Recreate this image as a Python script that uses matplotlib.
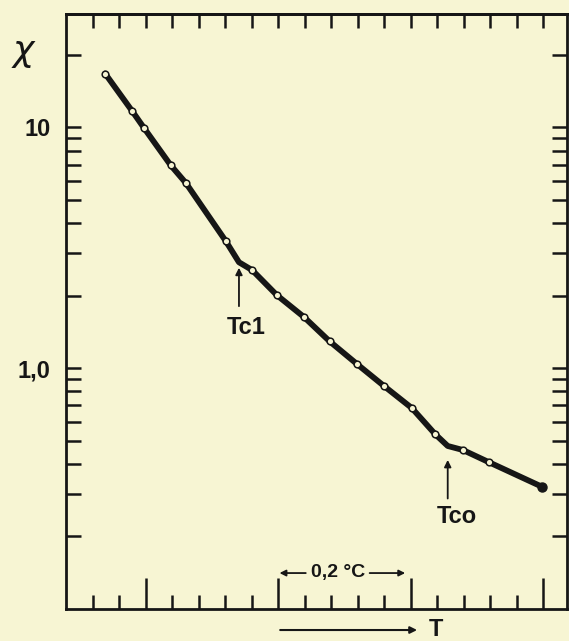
import numpy as np
import matplotlib
matplotlib.use('Agg')
import matplotlib.pyplot as plt
from matplotlib.ticker import FixedLocator, NullFormatter

# measured points (x in degC from the left edge, chi on log scale)
pts_x = [0.059, 0.100, 0.118, 0.158, 0.181, 0.241, 0.281, 0.318, 0.359, 0.398,
         0.439, 0.480, 0.522, 0.557, 0.599, 0.638]
pts_chi = [16.7, 11.65, 9.9, 6.95, 5.86, 3.37, 2.55, 2.01, 1.63, 1.29,
           1.04, 0.842, 0.682, 0.532, 0.457, 0.407]
end_x, end_chi = 0.719, 0.321

# transition points
tc1_x, tc1_chi = 0.261, 2.75
tco_x, tco_chi = 0.576, 0.475

y_ticks = [0.2, 0.3, 0.4, 0.5, 0.6, 0.7, 0.8, 0.9, 1.0,
           2, 3, 4, 5, 6, 7, 8, 9, 10, 20]
y_labels = {10: '10', 1.0: '1,0'}
x_major = [0.12, 0.32, 0.52, 0.72]
x_minor = [round(0.04 * i, 2) for i in range(1, 19)]

paper = '#f7f5d3'
ink = '#161616'
plt.rcParams['font.family'] = ['Liberation Sans', 'DejaVu Sans']

fig = plt.figure(figsize=(5.69, 6.41), dpi=100, facecolor=paper)
ax = fig.add_axes([66/569, 32/641, 501/569, 595/641])
ax.set_facecolor(paper)

# curve through points + kinks
cx = sorted(pts_x + [tc1_x, tco_x, end_x])
lookup = dict(zip(pts_x + [tc1_x, tco_x, end_x], pts_chi + [tc1_chi, tco_chi, end_chi]))
cy = [lookup[v] for v in cx]
ax.plot(cx, cy, color=ink, lw=4.2, solid_capstyle='round', zorder=3)
ax.plot(pts_x, pts_chi, 'o', ms=4.8, mfc=paper, mec=ink, mew=1.1, zorder=4)
ax.plot([end_x], [end_chi], 'o', ms=6.5, color=ink, zorder=4)

ax.set_yscale('log')
ax.set_xlim(0, 0.756)
ax.set_ylim(0.1, 29.5)

ax.yaxis.set_major_locator(FixedLocator(y_ticks))
ax.yaxis.set_minor_locator(FixedLocator([]))
ax.set_yticklabels([y_labels.get(v, '') for v in y_ticks], fontsize=17, fontweight='bold', color=ink)
ax.tick_params(axis='y', which='major', direction='in', length=11, width=1.8,
               left=True, right=True, pad=11, colors=ink)

ax.xaxis.set_major_locator(FixedLocator(x_major))
ax.xaxis.set_minor_locator(FixedLocator([v for v in x_minor if v not in x_major]))
ax.xaxis.set_major_formatter(NullFormatter())
ax.tick_params(axis='x', which='major', direction='in', length=22, width=1.8, top=False, colors=ink)
ax.tick_params(axis='x', which='minor', direction='in', length=10, width=1.8, top=False, colors=ink)

top = ax.secondary_xaxis('top')
top.xaxis.set_major_locator(FixedLocator(x_minor))
top.xaxis.set_major_formatter(NullFormatter())
top.tick_params(direction='in', length=10, width=1.8, colors=ink)
top.spines['top'].set_linewidth(2)

for s in ax.spines.values():
    s.set_linewidth(2)
    s.set_color(ink)

txt = dict(fontsize=17, fontweight='bold', color=ink, ha='center', va='center')
ax.annotate('', xy=(tc1_x, 2.68), xytext=(tc1_x, 1.76),
            arrowprops=dict(arrowstyle='-|>', color=ink, lw=1.3, mutation_scale=10))
ax.text(0.272, 1.47, 'Tc1', **txt)
ax.annotate('', xy=(tco_x, 0.427), xytext=(tco_x, 0.28),
            arrowprops=dict(arrowstyle='-|>', color=ink, lw=1.3, mutation_scale=10))
ax.text(0.590, 0.243, 'Tco', **txt)

# 0,2 degC scale bar
ax.annotate('', xy=(0.318, 0.141), xytext=(0.366, 0.141),
            arrowprops=dict(arrowstyle='-|>', color=ink, lw=1.3, mutation_scale=9))
ax.annotate('', xy=(0.516, 0.141), xytext=(0.454, 0.141),
            arrowprops=dict(arrowstyle='-|>', color=ink, lw=1.3, mutation_scale=9))
ax.text(0.410, 0.142, '0,2 °C', fontsize=14, fontweight='bold', color=ink,
        ha='center', va='center')

# temperature arrow below axis
ax.annotate('', xy=(0.534, 0.0818), xytext=(0.319, 0.0818), annotation_clip=False,
            arrowprops=dict(arrowstyle='-|>', color=ink, lw=1.5, mutation_scale=10))
ax.text(0.558, 0.0825, 'T', clip_on=False, **txt)

fig.text(24/569, 1 - 53/641, r'$\chi$', fontsize=26, color=ink, ha='center', va='center')

fig.savefig('out.png', dpi=100, facecolor=paper)
